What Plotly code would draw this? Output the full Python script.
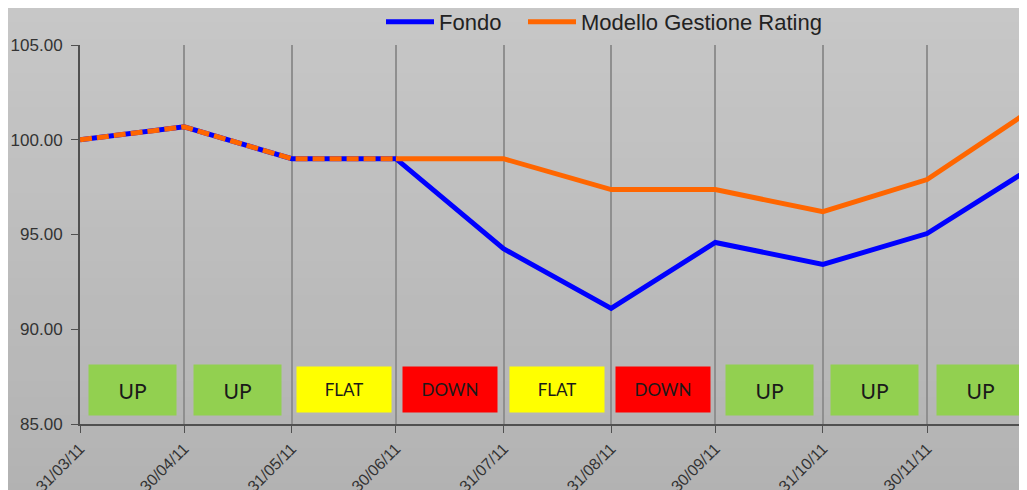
import plotly.graph_objects as go
import pandas as pd

dates = ["2011-03-31", "2011-04-30", "2011-05-31", "2011-06-30", "2011-07-31",
         "2011-08-31", "2011-09-30", "2011-10-31", "2011-11-30", "2011-12-31"]
fondo = [100.0, 100.68, 99.0, 99.0, 94.25, 91.1, 94.58, 93.42, 95.05, 98.63]
modello = [100.0, 100.68, 99.0, 99.0, 99.0, 97.37, 97.37, 96.2, 97.9, 101.7]
states = ["UP", "UP", "FLAT", "DOWN", "FLAT", "DOWN", "UP", "UP", "UP"]

state_style = {
    "UP": dict(bg="#92d050", w=85, h=48, size=21),
    "FLAT": dict(bg="#ffff00", w=92, h=43, size=17),
    "DOWN": dict(bg="#ff0000", w=92, h=43, size=17),
}

BLUE = "#0000ff"
ORANGE = "#ff6600"
W, H = 1019, 482

fig = go.Figure()

# background gradient bands
n = 30
top, bot = 200, 178
for i in range(n):
    c = int(round(top + (bot - top) * (i + 0.5) / n))
    fig.add_shape(type="rect", xref="paper", yref="paper",
                  x0=-0.2, x1=1.2,
                  y0=1.15 - (i + 1) * 1.35 / n - 0.01, y1=1.15 - i * 1.35 / n,
                  fillcolor=f"rgb({c},{c},{c})", line_width=0, layer="below")

fig.add_trace(go.Scatter(x=dates, y=fondo, mode="lines", name="Fondo",
                         line=dict(color=BLUE, width=5), legend="legend"))
fig.add_trace(go.Scatter(x=dates[3:], y=modello[3:], mode="lines", name="Modello Gestione Rating",
                         line=dict(color=ORANGE, width=5), legend="legend2"))
fig.add_trace(go.Scatter(x=dates[:4], y=modello[:4], mode="lines", showlegend=False,
                         line=dict(color=ORANGE, width=5, dash="12px,5px")))

d = pd.to_datetime(dates)
for i, s in enumerate(states):
    mid = d[i] + (d[i + 1] - d[i]) / 2
    st = state_style[s]
    fig.add_annotation(x=mid, y=86.8, text=s, showarrow=False,
                       bgcolor=st["bg"], width=st["w"], height=st["h"],
                       font=dict(family="Lato, Open Sans, sans-serif", size=st["size"], color="#1a1a1a"),
                       valign="middle", align="center")

leg_common = dict(orientation="h", xref="container", yref="container",
                  xanchor="left", y=1 - 14 / H, yanchor="middle",
                  font=dict(size=22, color="#222222"), bgcolor="rgba(0,0,0,0)",
                  itemwidth=48)
fig.update_layout(
    width=W, height=H,
    margin=dict(l=72, r=0, t=37, b=66),
    paper_bgcolor="#bebebe",
    plot_bgcolor="rgba(0,0,0,0)",
    font=dict(family="Liberation Sans, Arial, sans-serif", color="#333333"),
    showlegend=True,
    legend=dict(x=373 / W, **leg_common),
    legend2=dict(x=515 / W, **leg_common),
)
fig.update_xaxes(
    type="date", range=["2011-03-31", "2011-12-28 19:00"],
    tickvals=dates, tickformat="%d/%m/%y", tickangle=-45,
    tickfont=dict(size=16, color="#333333"),
    showgrid=True, gridcolor="#8f8f8f", gridwidth=1.5,
    showline=True, linecolor="#505050", linewidth=2,
    ticks="outside", ticklen=7, tickcolor="#505050",
    zeroline=False, automargin=False,
)
fig.update_yaxes(
    range=[85, 105], dtick=5, tickformat=".2f",
    tickfont=dict(size=17, color="#333333"),
    showgrid=False, showline=True, linecolor="#505050", linewidth=2,
    ticks="outside", ticklen=7, tickcolor="#505050", zeroline=False,
    ticklabelstandoff=5, automargin=False,
)

fig.write_html("out.html")
